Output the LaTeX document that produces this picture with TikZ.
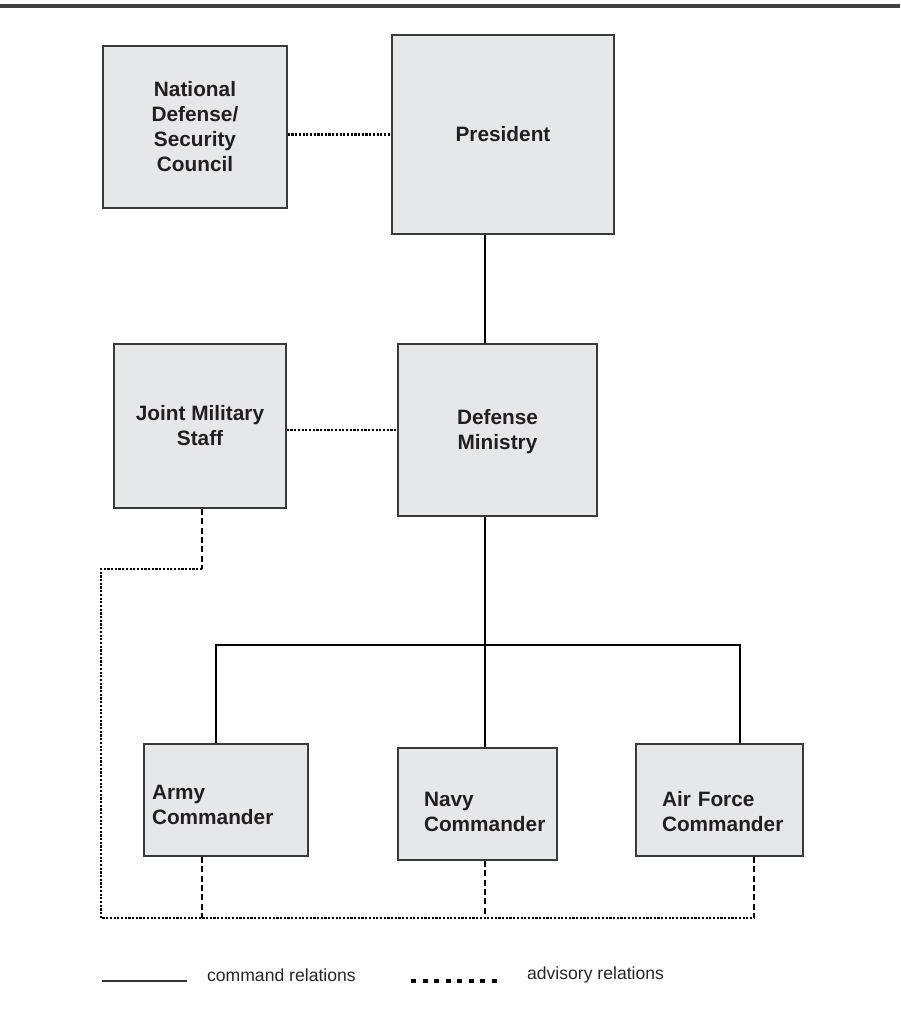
\documentclass[tikz,border=0pt]{standalone}
\usepackage{fontspec}
\setmainfont{Liberation Sans}
\usepackage{tikz}
\definecolor{boxfill}{HTML}{E6E7E8}
\definecolor{boxline}{HTML}{3A3A3A}
\definecolor{inkgray}{HTML}{231F20}
\hyphenpenalty=10000

\begin{document}
\begin{tikzpicture}[x=0.5pt,y=-0.5pt]
\tikzstyle{every node}=[text=inkgray];
\tikzstyle{box}=[draw=boxline,fill=boxfill,line width=0.75pt,font=\fontsize{10.4}{12.5}\selectfont\bfseries,align=center,inner sep=0pt];
\tikzstyle{cmdbox}=[box,align=left,minimum height=56pt];
\tikzstyle{command}=[line width=1pt,black];
\tikzstyle{advisory}=[line width=1.3pt,dash pattern=on 1.1pt off 0.75pt];
\tikzstyle{report}=[line width=0.75pt,dash pattern=on 3pt off 1.7pt];
\tikzstyle{keytext}=[anchor=west,font=\fontsize{8.8}{10}\selectfont,text=black!85];
\useasboundingbox (0,0) rectangle (900,1012);
\draw[line width=1.6pt,black!75] (0,6) -- (900,6);
% upper level
\path (195,127) node[box,minimum width=92pt,minimum height=81pt] (ndsc) {National\\Defense/\\Security\\Council};
\path (503,134.5) node[box,minimum width=111pt,minimum height=99.5pt] (pres) {President};
\path (200,426) node[box,minimum width=86pt,minimum height=82pt] (jms) {Joint Military\\Staff};
\path (497.5,430) node[box,minimum width=99.5pt,minimum height=86pt] (dm) {\rule{0pt}{9pt}Defense\\Ministry};
% service commanders
\path (226,800) node[cmdbox,minimum width=82pt,text width=74pt] (army) {\rule{0pt}{11.6pt}Army\\Commander};
\path (477.5,804) node[cmdbox,minimum width=79.5pt,text width=53.5pt] (navy) {\rule{0pt}{14.6pt}Navy\\Commander};
\path (719.5,800) node[cmdbox,minimum width=83.5pt,text width=57.5pt] (air) {\rule{0pt}{18.6pt}Air Force\\Commander};
\coordinate (spine) at (485,645);
\coordinate (busL) at (216,645);
\coordinate (busR) at (740,645);
\coordinate (jmsbend) at (202,569);
\coordinate (lowL) at (101,918);
\coordinate (lowR) at (754,918);
% command relations
\draw[command] (spine |- pres.south) -- (spine |- dm.north);
\draw[command] (spine |- dm.south) -- (spine |- navy.north);
\draw[command] (busL |- army.north) -- (busL) -- (busR) -- (busR |- air.north);
% advisory relations
\draw[advisory] (ndsc.east |- pres.west) -- (pres.west);
\draw[advisory] (jms.east |- dm.west) -- (dm.west);
\draw[report] (jmsbend |- jms.south) -- (jmsbend);
\draw[advisory] (jmsbend) -- (lowL |- jmsbend) -- (lowL) -- (lowR);
\draw[report] (jmsbend |- army.south) -- (jmsbend |- lowL);
\draw[report] (spine |- navy.south) -- (spine |- lowL);
\draw[report] (lowR |- air.south) -- (lowR);
% key
\coordinate (keyA) at (102,981);
\coordinate (keyB) at (187,981);
\coordinate (keyC) at (411,981);
\coordinate (keyD) at (497,981);
\draw[line width=0.75pt,black!80] (keyA) -- (keyB);
\draw[line width=2.4pt,dash pattern=on 2.6pt off 3.17pt] (keyC) -- (keyD);
\path (200,975) node[keytext] (keycmd) {command relations};
\path (520,975) node[keytext] (keyadv) {advisory relations};
\end{tikzpicture}
\end{document}
